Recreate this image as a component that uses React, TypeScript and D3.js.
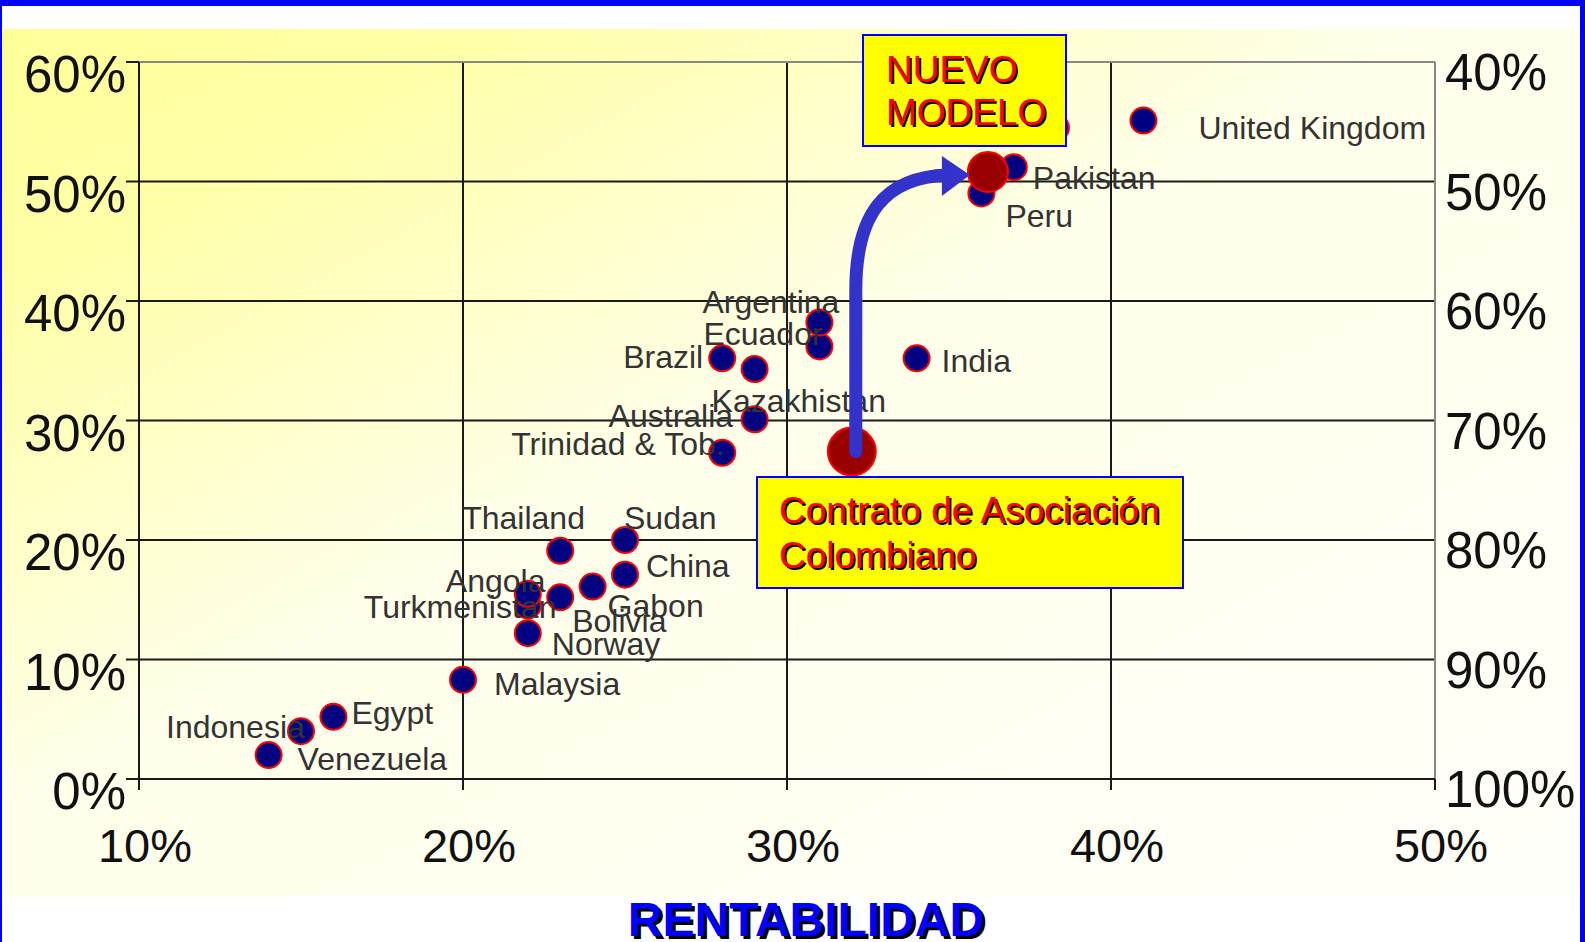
import * as d3 from 'd3'

const W = 1585
const H = 942
const FONT = '"Liberation Sans", Arial, sans-serif'

// countries: x = rentabilidad (%), y = left axis (%)
const COUNTRIES = [
  'Venezuela', 'Indonesia', 'Egypt', 'Malaysia', 'Norway', 'Turkmenistan', 'Angola',
  'Bolivia', 'Gabon', 'Thailand', 'China', 'Sudan', 'Trinidad & Tob.', 'Australia',
  'Kazakhistan', 'Brazil', 'Ecuador', 'Argentina', 'India', 'Peru', 'Pakistan', '',
  'United Kingdom',
]
const RENT_X = [14, 15, 16, 20, 22, 22, 22, 23, 24, 23, 25, 25, 28, 29, 29, 28, 31, 31, 34, 36, 37, 38.3, 41]
const VAL_Y = [2, 4, 5.2, 8.3, 12.2, 14.5, 15.5, 15.2, 16.1, 19.1, 17.1, 20, 27.3, 30.1, 34.3, 35.2, 36.2, 38.2, 35.2, 49, 51.2, 54.5, 55.1]

// label offsets in px from the dot centre (text start, baseline)
const LABEL_DX = [29, -135, 18, 31, 24, -164, -82, 12, 15, -98, 21, -1, -211, -146, -43, -99, -116, -117, 25, 24, 19, 0, 55]
const LABEL_DY = [15, 7, 7, 15, 22, 12, -2, 35, 30, -22, 2, -11, 2, 8, 43, 10, -1, -10, 14, 34, 22, 0, 18]

const SCENARIOS = ['Contrato de Asociación Colombiano', 'NUEVO MODELO']
const SCEN_X = [32, 36.2]
const SCEN_Y = [27.4, 50.8]
const SCEN_R = [24, 20]

const X_TICKS = [10, 20, 30, 40, 50]
const Y_TICKS = [0, 10, 20, 30, 40, 50, 60]
const Y2_TICKS = [40, 50, 60, 70, 80, 90, 100]

const L = 139, R = 1435, T = 62, B = 779

function ShadowText({ x, y, size, fill, weight = 'normal', off = 2, anchor = 'start', children }: any) {
  return (
    <g fontFamily={FONT} fontSize={size} fontWeight={weight} textAnchor={anchor}>
      <text x={x + off} y={y + off} fill="#000">{children}</text>
      <text x={x} y={y} fill={fill}>{children}</text>
    </g>
  )
}

export default function App() {
  const x = d3.scaleLinear([10, 50], [L, R])
  const y = d3.scaleLinear([0, 60], [B, T])
  const y2 = d3.scaleLinear([40, 100], [T, B])

  // arrow from the Colombian contract to the new model
  const ax0 = x(SCEN_X[0]) + 4
  const ay0 = y(SCEN_Y[0])
  const ax1 = x(SCEN_X[1]) - SCEN_R[1] - 20
  const ay1 = y(SCEN_Y[1]) + 3
  const arrow = d3.path()
  arrow.moveTo(ax0, ay0)
  arrow.lineTo(ax0, ay1 + 115)
  arrow.bezierCurveTo(ax0, ay1 + 40, ax0 + 28, ay1 + 2, ax1, ay1)
  const tipX = x(SCEN_X[1]) - SCEN_R[1] + 2

  return (
    <svg width={W} height={H} style={{ position: 'absolute', left: 0, top: 0 }}>
      <defs>
        <linearGradient id="bg" x1="0" y1="0" x2="1" y2="1">
          <stop offset="0" stopColor="#FFFF99" />
          <stop offset="0.15" stopColor="#FFFFA8" />
          <stop offset="0.45" stopColor="#FFFFEA" />
          <stop offset="1" stopColor="#FFFFFA" />
        </linearGradient>
      </defs>
      <rect width={W} height={H} fill="#fff" />
      <rect x={2} y={29} width={1578} height={868} fill="url(#bg)" />
      <rect x={0} y={0} width={W} height={6} fill="#0000FF" />
      <rect x={1580} y={0} width={5} height={H} fill="#0000FF" />
      <rect x={0} y={0} width={2} height={H} fill="#0000FF" />

      {/* grid */}
      {Y_TICKS.filter((t) => t > 0 && t < 60).map((t) => (
        <line key={'gy' + t} x1={L} x2={R} y1={y(t)} y2={y(t)} stroke="#1a1a1a" strokeWidth={2} />
      ))}
      {X_TICKS.filter((t) => t > 10 && t < 50).map((t) => (
        <line key={'gx' + t} x1={x(t)} x2={x(t)} y1={T} y2={B} stroke="#1a1a1a" strokeWidth={2} />
      ))}
      <line x1={L} x2={R} y1={T} y2={T} stroke="#888" strokeWidth={2} />
      <line x1={R} x2={R} y1={T} y2={B} stroke="#888" strokeWidth={2} />
      <line x1={L} x2={L} y1={T} y2={B} stroke="#1a1a1a" strokeWidth={2} />
      <line x1={L} x2={R} y1={B} y2={B} stroke="#1a1a1a" strokeWidth={2} />

      {/* left axis */}
      {Y_TICKS.map((t) => (
        <g key={'yl' + t}>
          <line x1={L - 13} x2={L} y1={y(t)} y2={y(t)} stroke="#1a1a1a" strokeWidth={2} />
          <text x={126} y={y(t) + 30} textAnchor="end" fontFamily={FONT} fontSize={51} fill="#111">
            {t}%
          </text>
        </g>
      ))}
      {/* right axis */}
      {Y2_TICKS.map((t) => (
        <text key={'yr' + t} x={1445} y={y2(t) + 28} fontFamily={FONT} fontSize={51} fill="#111">
          {t}%
        </text>
      ))}
      {/* bottom axis */}
      {X_TICKS.map((t) => (
        <g key={'xb' + t}>
          <line x1={x(t)} x2={x(t)} y1={B} y2={B + 11} stroke="#1a1a1a" strokeWidth={2} />
          <text x={x(t) + 6} y={862} textAnchor="middle" fontFamily={FONT} fontSize={47} fill="#111">
            {t}%
          </text>
        </g>
      ))}

      {/* country dots */}
      {COUNTRIES.map((c, i) => (
        <circle key={'d' + i} cx={x(RENT_X[i])} cy={y(VAL_Y[i])} r={13} fill="#000080" stroke="#FF0000" strokeWidth={2} />
      ))}
      {COUNTRIES.map((c, i) =>
        c ? (
          <text
            key={'t' + i}
            x={x(RENT_X[i]) + LABEL_DX[i]}
            y={y(VAL_Y[i]) + LABEL_DY[i]}
            fontFamily={FONT}
            fontSize={32}
            fill="#333"
          >
            {c}
          </text>
        ) : null,
      )}

      {/* scenario dots */}
      {SCENARIOS.map((s, i) => (
        <circle key={'s' + i} cx={x(SCEN_X[i])} cy={y(SCEN_Y[i])} r={SCEN_R[i]} fill="#990000" stroke="#FF0000" strokeWidth={2} />
      ))}

      {/* arrow */}
      <path d={arrow.toString()} fill="none" stroke="#3333CC" strokeWidth={13} strokeLinecap="round" />
      <polygon points={`${ax1 - 6},${ay1 - 19} ${tipX},${ay1} ${ax1 - 6},${ay1 + 21}`} fill="#3333CC" />

      {/* boxes */}
      <rect x={863} y={35} width={203} height={111} fill="#FFFF00" stroke="#0000FF" strokeWidth={2} />
      <ShadowText x={886} y={82} size={37} fill="#FF0000">NUEVO</ShadowText>
      <ShadowText x={886} y={125} size={37} fill="#FF0000">MODELO</ShadowText>

      <rect x={757} y={477} width={426} height={111} fill="#FFFF00" stroke="#0000FF" strokeWidth={2} />
      <ShadowText x={779} y={523} size={37} fill="#FF0000">Contrato de Asociación</ShadowText>
      <ShadowText x={779} y={568} size={37} fill="#FF0000">Colombiano</ShadowText>

      <ShadowText x={806} y={936} size={48} weight="bold" fill="#0000FF" off={3} anchor="middle">
        RENTABILIDAD
      </ShadowText>
    </svg>
  )
}
